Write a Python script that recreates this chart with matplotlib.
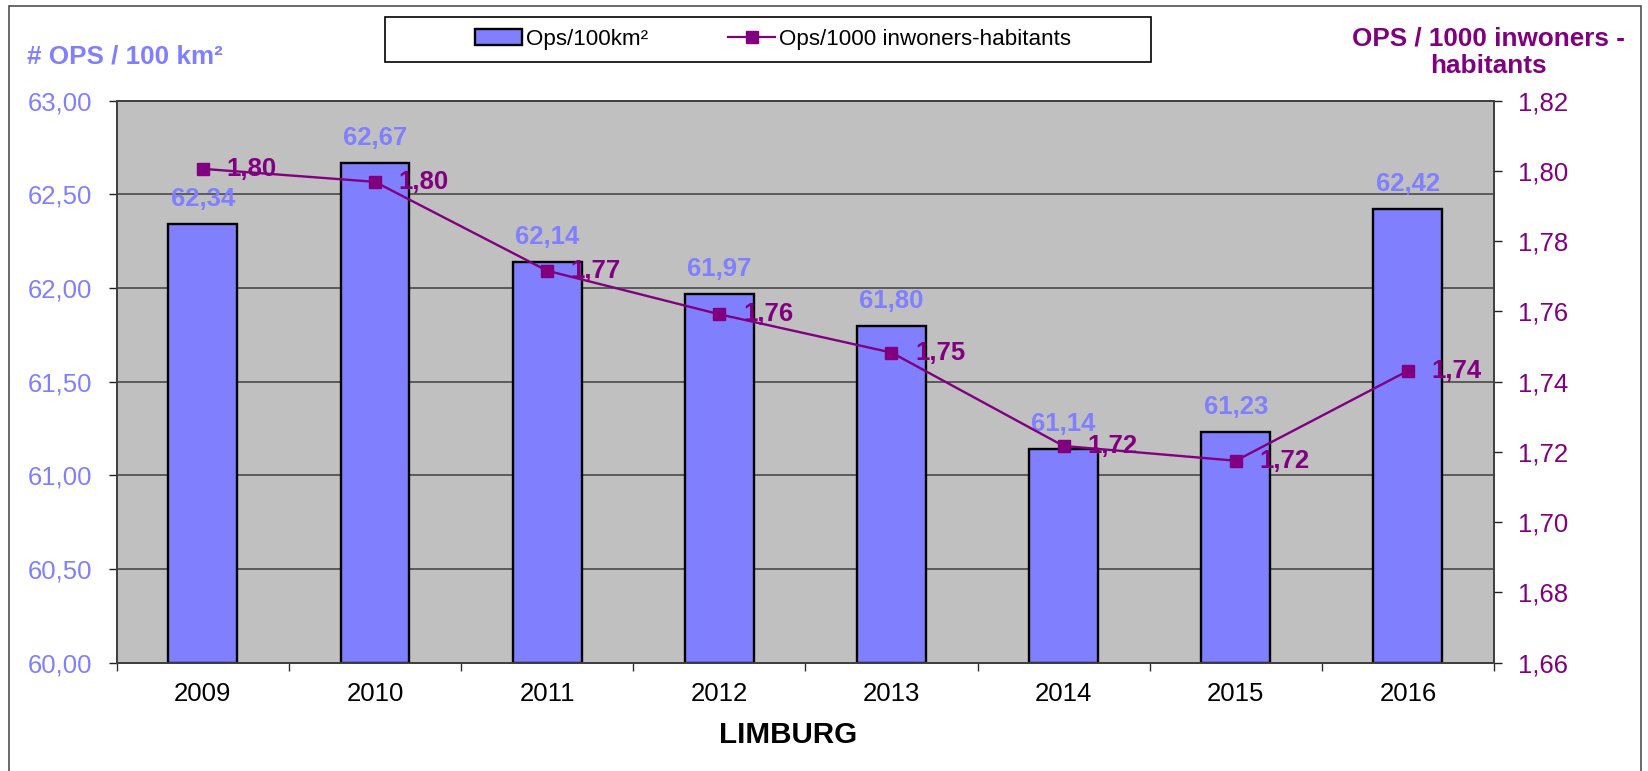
import numpy as np
import matplotlib
matplotlib.use("Agg")
import matplotlib.pyplot as plt
from matplotlib.patches import Rectangle
from matplotlib.lines import Line2D
from matplotlib.ticker import FuncFormatter, MultipleLocator, FixedLocator

# DATA
years = ["2009", "2010", "2011", "2012", "2013", "2014", "2015", "2016"]
ops_per_100km2 = [62.34, 62.67, 62.14, 61.97, 61.80, 61.14, 61.23, 62.42]
ops_per_1000_inh = [1.8006, 1.7969, 1.7716, 1.7592, 1.7483, 1.7217, 1.7175, 1.7431]
ops_per_1000_lbl = ["1,80", "1,80", "1,77", "1,76", "1,75", "1,72", "1,72", "1,74"]

BAR_COL = "#8080FF"
LINE_COL = "#800080"
plt.rcParams["font.family"] = ["Liberation Sans", "DejaVu Sans"]

W, H = 1649, 771


def comma(v, pos=None):
    return f"{v:.2f}".replace(".", ",")


fig = plt.figure(figsize=(W / 100, H / 100), dpi=100)
ax = fig.add_axes([116.7 / W, 1 - 662.7 / H, (1494 - 116.7) / W, (662.7 - 100.7) / H])
ax.set_facecolor("#C0C0C0")

x = np.arange(len(years))
ax.bar(x, [v - 60 for v in ops_per_100km2], bottom=60, width=0.40,
       color=BAR_COL, edgecolor="black", linewidth=1.7, zorder=3)
ax.set_xlim(-0.5, len(years) - 0.5)
ax.set_ylim(60, 63)
ax.yaxis.set_major_locator(MultipleLocator(0.5))
ax.yaxis.set_major_formatter(FuncFormatter(comma))
ax.grid(axis="y", color="#404040", linewidth=1.1, zorder=1)
ax.set_axisbelow(True)

for xi, v in zip(x, ops_per_100km2):
    ax.annotate(comma(v), (xi, v), xytext=(0, 18), textcoords="offset points",
                ha="center", va="center", fontsize=18.5, fontweight="bold",
                color=BAR_COL, zorder=4)

ax.set_xticks(x)
ax.set_xticklabels(years)
ax.xaxis.set_minor_locator(FixedLocator(np.arange(-0.5, len(years), 1.0)))
ax.tick_params(axis="x", which="major", length=0, pad=14, labelsize=18.5, colors="black")
ax.tick_params(axis="x", which="minor", length=5.5, width=1.0, color="#303030")
ax.tick_params(axis="y", length=5.5, width=1.0, pad=12, labelsize=18.5,
               labelcolor=BAR_COL, color="#202020")

for s in ax.spines.values():
    s.set_color("#404040")
    s.set_linewidth(1.3)

ax2 = ax.twinx()
ax2.plot(x, ops_per_1000_inh, color=LINE_COL, linewidth=1.7, marker="s",
         markersize=9, zorder=5)
ax2.set_ylim(1.66, 1.82)
ax2.yaxis.set_major_locator(MultipleLocator(0.02))
ax2.yaxis.set_major_formatter(FuncFormatter(comma))
ax2.tick_params(axis="y", length=5.5, width=1.0, pad=11.5, labelsize=18.5,
                labelcolor=LINE_COL, color="#202020")
for s in ax2.spines.values():
    s.set_color("#404040")
    s.set_linewidth(1.3)

for xi, v, lbl in zip(x, ops_per_1000_inh, ops_per_1000_lbl):
    ax2.annotate(lbl, (xi, v), xytext=(17, 0), textcoords="offset points",
                 ha="left", va="center", fontsize=18.5, fontweight="bold",
                 color=LINE_COL, zorder=6)

# axis titles
fig.text(27 / W, 1 - 56.7 / H, "# OPS / 100 km²", ha="left", va="center",
         fontsize=18.8, fontweight="bold", color=BAR_COL)
fig.text(1488 / W, 1 - 52.5 / H, "OPS / 1000 inwoners -\nhabitants", ha="center",
         va="center", fontsize=18.8, fontweight="bold", color=LINE_COL,
         linespacing=1.18)
fig.text(788 / W, 1 - 735 / H, "LIMBURG", ha="center", va="center",
         fontsize=21.3, fontweight="bold", color="black")

# legend
handles = [Rectangle((0, 0), 1, 1, facecolor=BAR_COL, edgecolor="black", linewidth=1.7),
           Line2D([], [], color=LINE_COL, linewidth=1.6, marker="s", markersize=8)]
fig.legend(handles, ["Ops/100km²", "Ops/1000 inwoners-habitants"], ncol=2,
           loc="center", bbox_to_anchor=(773 / W, 1 - 39.5 / H), frameon=False,
           fontsize=16.1, handlelength=2.1, handletextpad=0.15, columnspacing=3.6)
fig.patches.append(Rectangle((385 / W, 1 - 62 / H), (1151 - 385) / W, 45 / H,
                             transform=fig.transFigure, fill=False,
                             edgecolor="black", linewidth=1.2))
# chart area border
fig.patches.append(Rectangle((9 / W, -0.05), (1641 - 9) / W, 1.05 - 6 / H,
                             transform=fig.transFigure, fill=False,
                             edgecolor="#505050", linewidth=1.2, clip_on=False))

fig.savefig("out.png", dpi=100)
